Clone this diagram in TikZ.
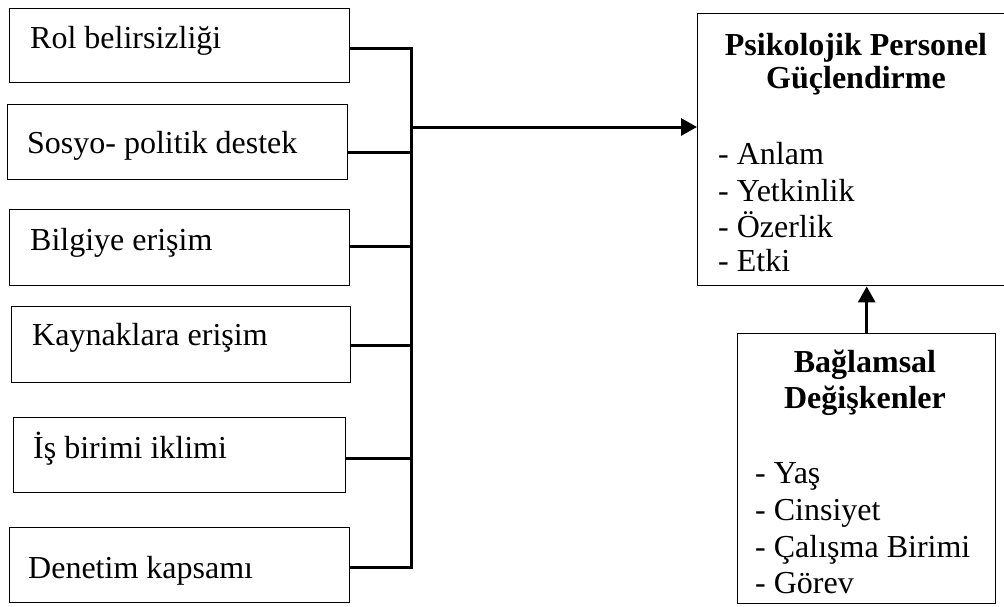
\documentclass[tikz,border=0pt]{standalone}
\usepackage{fontspec}
\setmainfont{Liberation Serif}
\usetikzlibrary{arrows.meta}
\tikzset{
  frame/.style={draw=black, line width=1.4pt, inner sep=0pt, anchor=north west},
  itemtext/.style={font=\fontsize{32}{36}\selectfont, inner sep=0pt, anchor=base west},
  heading/.style={font=\fontsize{32}{36}\selectfont\bfseries, inner sep=0pt, anchor=base},
  link/.style={line width=3pt, line join=miter},
  feed/.style={line width=3pt, -{Triangle[length=16pt,width=17pt]}},
}
\begin{document}
\begin{tikzpicture}[x=1pt,y=-1pt]
\useasboundingbox (0,0) rectangle (1004,606);

% factor boxes on the left
\node[frame, minimum width=340pt, minimum height=74pt] (r1) at (9,8) {};
\node[frame, minimum width=340pt, minimum height=75pt] (r2) at (7,104) {};
\node[frame, minimum width=340pt, minimum height=76pt] (r3) at (9,209) {};
\node[frame, minimum width=339pt, minimum height=76pt] (r4) at (11,306) {};
\node[frame, minimum width=332pt, minimum height=75pt] (r5) at (13,417) {};
\node[frame, minimum width=340pt, minimum height=75pt] (r6) at (9,527) {};

\node[itemtext] (t1) at (30,48) {Rol belirsizliği};
\node[itemtext] (t2) at (27,153) {Sosyo- politik destek};
\node[itemtext] (t3) at (30,250) {Bilgiye erişim};
\node[itemtext] (t4) at (32,345) {Kaynaklara erişim};
\node[itemtext] (t5) at (33,458) {İş birimi iklimi};
\node[itemtext] (t6) at (28,578) {Denetim kapsamı};

% collecting bus
\coordinate (j1) at (411,48);
\coordinate (j2) at (411,152);
\coordinate (j3) at (411,246);
\coordinate (j4) at (411,345);
\coordinate (j5) at (411,458);
\coordinate (j6) at (411,567);
\coordinate (hub) at (411,127);

\draw[link] (r1.east |- j1) -- (j1) -- (j6) -- (r6.east |- j6);
\foreach \k in {2,...,5} {
  \draw[link] (r\k.east |- j\k) -- (j\k);
}

% outcome box
\node[frame, minimum width=320pt, minimum height=272pt] (psy) at (697,13) {};
\node[heading] (psyh1) at (856,55) {Psikolojik Personel};
\node[heading] (psyh2) at (856,88) {Güçlendirme};
\node[itemtext] (p1) at (718,164) {- Anlam};
\node[itemtext] (p2) at (718,201) {- Yetkinlik};
\node[itemtext] (p3) at (718,237) {- Özerlik};
\node[itemtext] (p4) at (718,271) {- Etki};

% contextual variables box
\node[frame, minimum width=258pt, minimum height=270pt] (ctx) at (737,333) {};
\node[heading] (ctxh1) at (865,372) {Bağlamsal};
\node[heading] (ctxh2) at (865,408) {Değişkenler};
\node[itemtext] (c1) at (755,483) {- Yaş};
\node[itemtext] (c2) at (755,520) {- Cinsiyet};
\node[itemtext] (c3) at (755,557) {- Çalışma Birimi};
\node[itemtext] (c4) at (755,593) {- Görev};

% arrows into the outcome box
\draw[feed] (hub) -- (psy.west |- hub);
\draw[feed] (ctx.north) -- (psy.south -| ctx.north);
\end{tikzpicture}
\end{document}
